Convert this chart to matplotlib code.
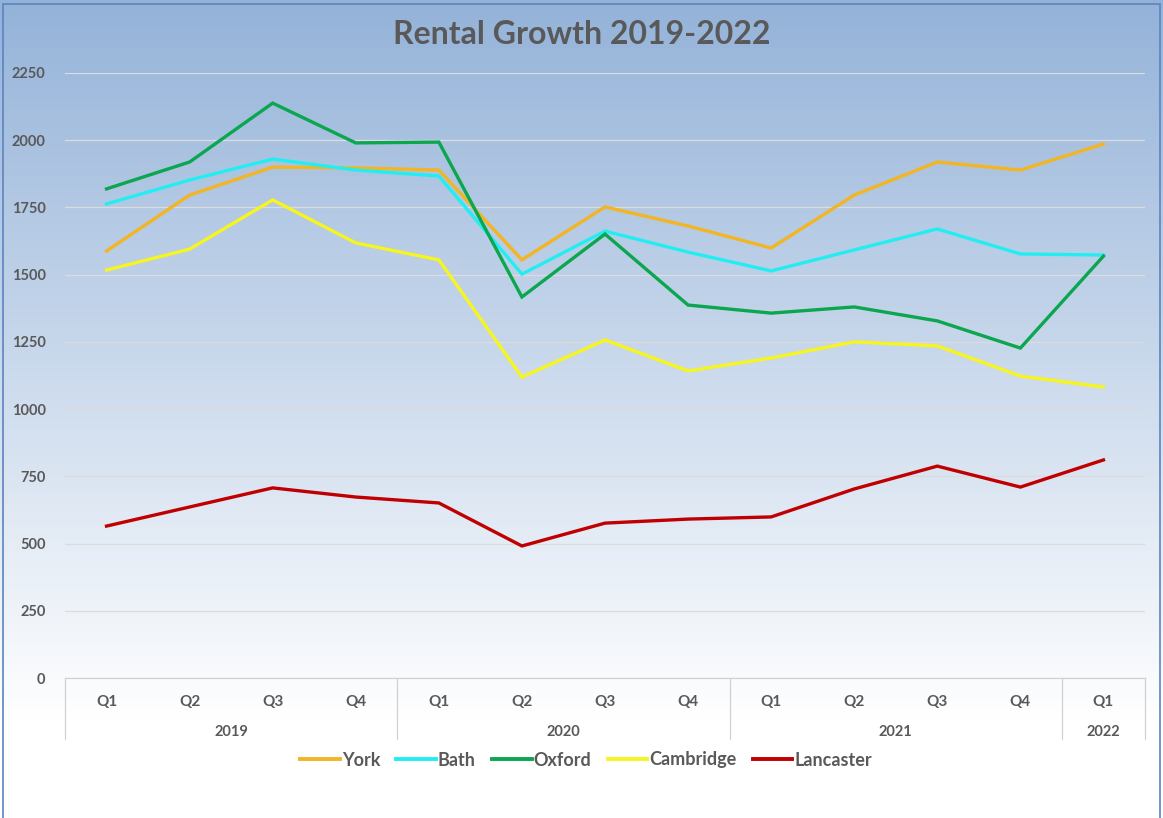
import numpy as np
import matplotlib
matplotlib.use("Agg")
import matplotlib.pyplot as plt
from matplotlib.patches import Rectangle
from matplotlib.lines import Line2D

# data
quarters = ["Q1", "Q2", "Q3", "Q4", "Q1", "Q2", "Q3", "Q4", "Q1", "Q2", "Q3", "Q4", "Q1"]
years = ["2019", "2020", "2021", "2022"]
year_counts = [4, 4, 4, 1]

york = [1588, 1796, 1900, 1897, 1889, 1555, 1752, 1681, 1599, 1796, 1919, 1889, 1986]
bath = [1763, 1852, 1930, 1889, 1867, 1502, 1662, 1584, 1514, 1592, 1670, 1577, 1573]
oxford = [1819, 1919, 2138, 1990, 1993, 1417, 1651, 1387, 1357, 1380, 1328, 1227, 1569]
cambridge = [1517, 1595, 1778, 1618, 1555, 1119, 1257, 1142, 1190, 1250, 1235, 1123, 1082]
lancaster = [565, 636, 707, 673, 651, 491, 576, 591, 599, 703, 788, 710, 811]

series = [("York", york, "#f2b523"),
          ("Bath", bath, "#22eef2"),
          ("Oxford", oxford, "#0aa650"),
          ("Cambridge", cambridge, "#f7f51f"),
          ("Lancaster", lancaster, "#c00000")]

plt.rcParams['font.family'] = ['Lato', 'DejaVu Sans']
txt = "#595959"

fig = plt.figure(figsize=(11.63, 8.18), dpi=100)

# background gradient
bg = fig.add_axes([0, 0, 1, 1], zorder=-10)
grad = np.linspace(0, 1, 256).reshape(-1, 1)
top = np.array([0.58, 0.70, 0.85])
bot = np.array([1.0, 1.0, 1.0])
t = np.clip(grad / 0.88, 0, 1)
img = top[None, None, :] * (1 - t[:, :, None]) + bot[None, None, :] * t[:, :, None]
bg.imshow(img, aspect='auto', extent=[0, 1, 0, 1], origin='upper')
bg.axis('off')
fig.patches.append(Rectangle((0.003, -0.01), 0.994, 1.005, transform=fig.transFigure,
                             fill=False, edgecolor="#5b84c0", linewidth=1.2))

ax = fig.add_axes([65 / 1163, 1 - 678 / 818, 1080 / 1163, 605 / 818])
ax.set_facecolor("none")

x = np.arange(len(quarters))
for name, vals, col in series:
    ax.plot(x, vals, color=col, linewidth=2.4, label=name, solid_joinstyle='miter')

ax.set_xlim(-0.5, len(quarters) - 0.5)
ax.set_ylim(0, 2250)
ax.set_yticks(np.arange(0, 2251, 250))
ax.yaxis.grid(True, color="#dcdcdc", linewidth=0.9)
ax.set_axisbelow(True)
for s in ["top", "right", "left"]:
    ax.spines[s].set_visible(False)
ax.spines["bottom"].set_color("#d0d0d0")
ax.tick_params(axis='y', length=0, pad=14, labelsize=10.5, labelcolor=txt)
for lab in ax.get_yticklabels():
    lab.set_fontweight('bold')

# two-level category axis
ax.set_xticks(x)
ax.set_xticklabels(quarters, fontsize=11, fontweight='bold', color=txt)
ax.tick_params(axis='x', length=0, pad=12)

trans = ax.get_xaxis_transform()
start = 0
bounds = [-0.5]
for yr, n in zip(years, year_counts):
    mid = start + (n - 1) / 2
    ax.text(mid, -0.09, yr, transform=trans, ha='center', va='center',
            fontsize=10.5, fontweight='bold', color=txt)
    start += n
    bounds.append(start - 0.5)
for b in bounds:
    ax.plot([b, b], [0, -0.1], transform=trans, color="#d0d0d0", linewidth=0.9, clip_on=False)

fig.text(0.5, 1 - 35 / 818, "Rental Growth 2019-2022", ha='center', va='center',
         fontsize=23, fontweight='bold', color=txt)

handles = [Line2D([], [], color=c, linewidth=2.8) for _, _, c in series]
leg = fig.legend(handles, [s[0] for s in series], loc='center', ncol=5,
                 bbox_to_anchor=(586 / 1163, 1 - 760 / 818), frameon=False,
                 handlelength=2.2, handletextpad=0.1, columnspacing=0.9,
                 prop={'weight': 'bold', 'size': 13})
for t_ in leg.get_texts():
    t_.set_color(txt)

fig.savefig("out.png", dpi=100)
